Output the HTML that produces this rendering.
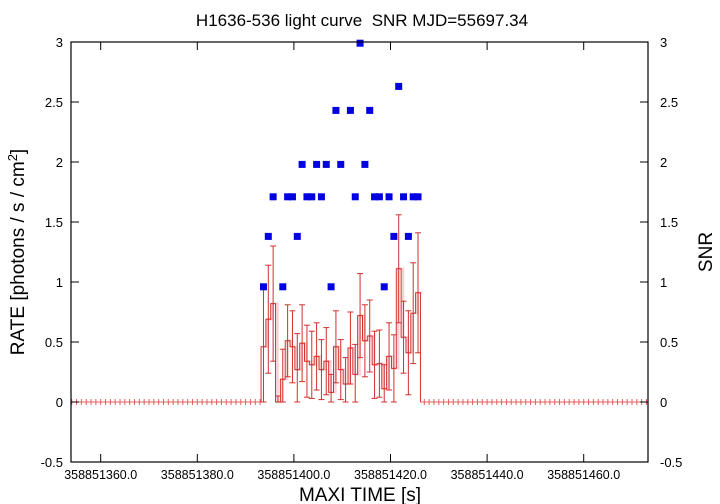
<!DOCTYPE html>
<html><head><meta charset="utf-8"><style>
body{margin:0;background:#fff}
svg{display:block;font-family:"Liberation Sans",sans-serif}
</style></head><body>
<svg id="chart" width="720" height="504" viewBox="0 0 720 504">
<rect width="720" height="504" fill="#fff"/>
<text x="362" y="26" font-size="17" text-anchor="middle" xml:space="preserve" style="white-space:pre">H1636-536 light curve  SNR MJD=55697.34</text>
<g id="marks"></g>
<rect x="71" y="42" width="577" height="420" fill="none" stroke="#000" stroke-width="1.2"/>
<g id="axes"></g>
<text transform="translate(24,252) rotate(-90)" font-size="19" text-anchor="middle">RATE [photons / s / cm<tspan dy="-7" font-size="13">2</tspan><tspan dy="7">]</tspan></text>
<text transform="translate(712,252) rotate(-90)" font-size="19" text-anchor="middle">SNR</text>
<text x="360" y="501" font-size="19" text-anchor="middle">MAXI TIME [s]</text>
</svg>
<script>
const xTicks=[358851360,358851380,358851400,358851420,358851440,358851460];
const yTicks=[-0.5,0,0.5,1,1.5,2,2.5,3];
const binStart=358851393.7;
const rates=[0.46,0.69,0.82,0.0,0.19,0.51,0.46,0.27,0.49,0.34,0.31,0.38,0.27,0.34,0.08,0.46,0.27,0.15,0.45,0.23,0.72,0.51,0.55,0.31,0.32,0.11,0.38,0.28,1.11,0.54,0.41,0.74,0.91];
const errs=[0.5,0.45,0.48,0.05,0.25,0.3,0.3,0.3,0.32,0.3,0.28,0.28,0.25,0.28,0.15,0.3,0.25,0.22,0.3,0.25,0.35,0.3,0.3,0.28,0.28,0.2,0.28,0.28,0.45,0.3,0.35,0.42,0.5];
const snr=[0.96,1.38,1.71,null,0.96,1.71,1.71,1.38,1.98,1.71,1.71,1.98,1.71,1.98,0.96,2.43,1.98,null,2.43,1.71,2.99,1.98,2.43,1.71,1.71,0.96,1.71,1.38,2.63,1.71,1.38,1.71,1.71];
const X0=358851360,PX=4.83,XL=100.7;
function sx(t){return XL+(t-X0)*PX;}
function sy(v){return 402-v*120;}
const NS='http://www.w3.org/2000/svg';
function mk(tag,attrs,parent){const e=document.createElementNS(NS,tag);for(const k in attrs)e.setAttribute(k,attrs[k]);parent.appendChild(e);return e;}
const marks=document.getElementById('marks');
const axes=document.getElementById('axes');
const zeroG=mk('g',{},marks);


mk('line',{x1:71,x2:sx(binStart-0.5),y1:sy(0),y2:sy(0),stroke:'#e06060','stroke-width':1},zeroG);
mk('line',{x1:sx(binStart+rates.length-0.5),x2:648,y1:sy(0),y2:sy(0),stroke:'#e06060','stroke-width':1},zeroG);
for(let t=358851354;t<=358851473;t++){
  if(t>=binStart-0.5&&t<=binStart+rates.length-0.5)continue;
  mk('line',{x1:sx(t),x2:sx(t),y1:sy(0)-3,y2:sy(0)+3,stroke:'#e06060','stroke-width':1},zeroG);
}
let pd='';
rates.forEach((v,i)=>{const a=sx(binStart+i-0.1),b=sx(binStart+i+0.9);pd+=(i?'L':'M')+a+','+sy(v)+'L'+b+','+sy(v);});
const pale=mk('path',{d:pd,fill:'none',stroke:'#f5b5b5','stroke-width':2.5,opacity:0.6},marks);


let d='M'+sx(binStart-0.5)+','+sy(0);
rates.forEach((v,i)=>{d+='L'+sx(binStart+i-0.5)+','+sy(v)+'L'+sx(binStart+i+0.5)+','+sy(v);});
d+='L'+sx(binStart+rates.length-0.5)+','+sy(0);
const line=mk('path',{d:d,fill:'none',stroke:'#d03030','stroke-width':1},marks);


rates.forEach((v,i)=>{
  const g=mk('g',{stroke:'#d03030','stroke-width':1},marks);
  
  
  const x=sx(binStart+i),lo=Math.max(v-errs[i],0),hi=v+errs[i];
  mk('line',{x1:x,x2:x,y1:sy(lo),y2:sy(hi)},g);
  mk('line',{x1:x-3,x2:x+3,y1:sy(lo),y2:sy(lo)},g);
  mk('line',{x1:x-3,x2:x+3,y1:sy(hi),y2:sy(hi)},g);
});
snr.forEach((v,i)=>{
  if(v===null)return;
  const r=mk('rect',{x:sx(binStart+i)-3.5,y:sy(v)-3.5,width:7,height:7,fill:'#0000e0'},marks);
  
  
});
yTicks.forEach(v=>{
  const y=sy(v);
  mk('line',{x1:71,x2:79,y1:y,y2:y,stroke:'#000'},axes);
  mk('line',{x1:640,x2:648,y1:y,y2:y,stroke:'#000'},axes);
  const t=mk('text',{x:63,y:y+5,'font-size':13,'text-anchor':'end'},axes);t.textContent=v;
  
  
  const t2=mk('text',{x:660,y:y+5,'font-size':13},axes);t2.textContent=v;
  
  
});
xTicks.forEach(v=>{
  const x=sx(v);
  mk('line',{x1:x,x2:x,y1:454,y2:462,stroke:'#000'},axes);
  mk('line',{x1:x,x2:x,y1:42,y2:50,stroke:'#000'},axes);
  const t=mk('text',{x:x,y:479,'font-size':12.5,'text-anchor':'middle'},axes);t.textContent=v+'.0';
  
  
});
</script>
</body></html>
